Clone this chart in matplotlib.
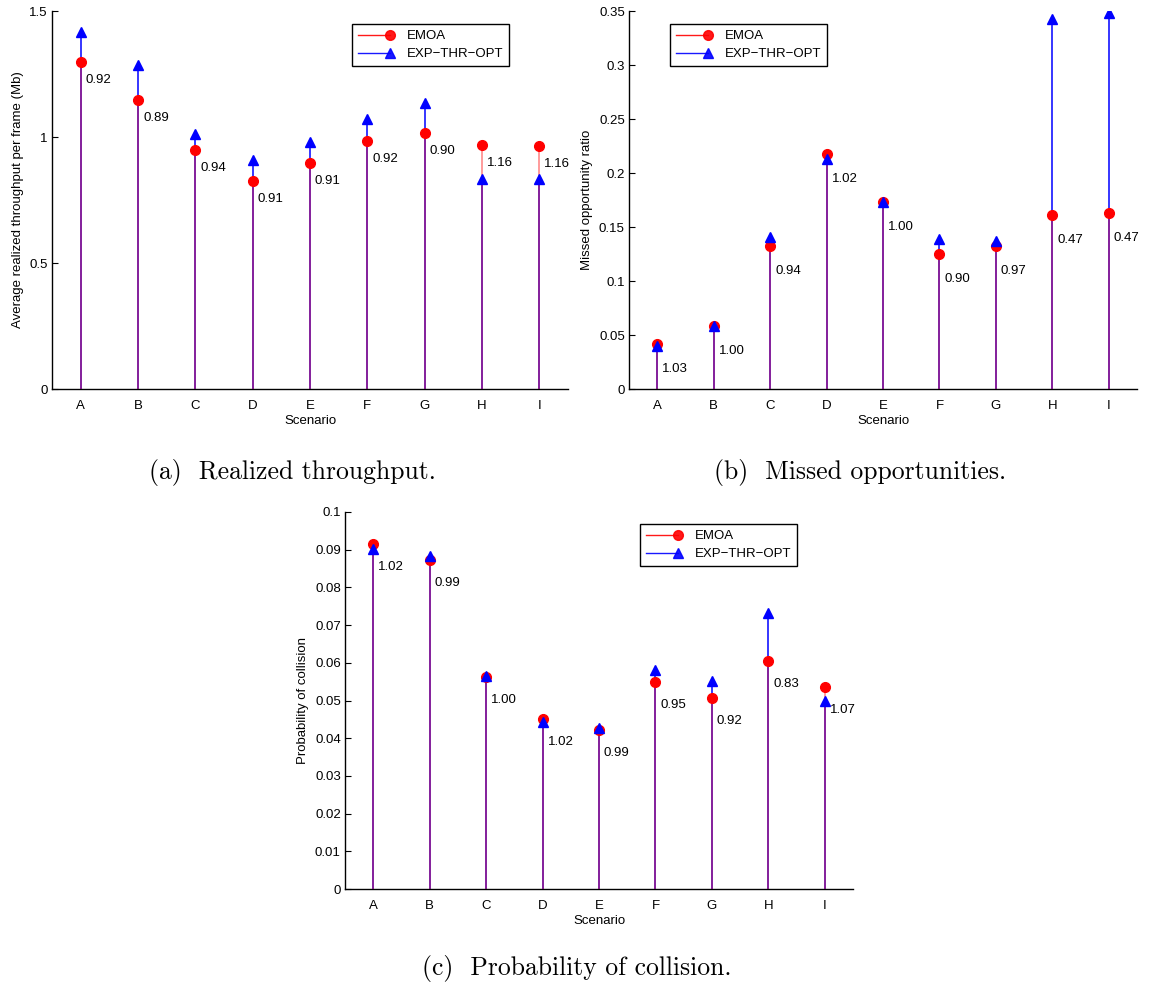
import numpy as np
import matplotlib
matplotlib.use("Agg")
import matplotlib.pyplot as plt
from matplotlib.lines import Line2D
from matplotlib.legend_handler import HandlerLine2D
from matplotlib.ticker import FuncFormatter

plt.rcParams['font.family'] = ['Liberation Sans', 'DejaVu Sans']
plt.rcParams['font.size'] = 9

scenarios = ['A', 'B', 'C', 'D', 'E', 'F', 'G', 'H', 'I']

# (a) average realized throughput per frame (Mb)
thr_emoa = [1.296, 1.147, 0.950, 0.825, 0.897, 0.984, 1.017, 0.969, 0.966]
thr_opt = [1.415, 1.286, 1.010, 0.909, 0.981, 1.070, 1.134, 0.835, 0.833]

# (b) missed opportunity ratio
mis_emoa = [0.0413, 0.0586, 0.1321, 0.2173, 0.1728, 0.1250, 0.1327, 0.1611, 0.1626]
mis_opt = [0.0401, 0.0586, 0.1405, 0.2130, 0.1730, 0.1392, 0.1373, 0.3426, 0.3478]

# (c) probability of collision
col_emoa = [0.0916, 0.0873, 0.0563, 0.0451, 0.0422, 0.0550, 0.0507, 0.0606, 0.0535]
col_opt = [0.0902, 0.0883, 0.0564, 0.0443, 0.0426, 0.0581, 0.0551, 0.0733, 0.0500]

FS = 9.5


class EndMarker(HandlerLine2D):
    # legend entry: line with the marker sitting at its right end
    def create_artists(self, legend, orig, xdescent, ydescent, width, height, fontsize, trans):
        arts = super().create_artists(legend, orig, xdescent, ydescent, width, height, fontsize, trans)
        line = arts[0]
        line.set_markevery([len(line.get_xdata()) - 1])
        return arts


def stem_panel(ax, emoa, opt, ylim, step, ylabel, leg_loc, txt_dy):
    x = np.arange(1, len(scenarios) + 1)
    emoa = np.asarray(emoa)
    opt = np.asarray(opt)
    ax.vlines(x, 0, opt, colors='blue', lw=1.1, zorder=2)
    ax.vlines(x, 0, emoa, colors='red', lw=1.1, alpha=0.5, zorder=3)
    ax.plot(x, emoa, 'o', color='red', ms=7, zorder=4)
    ax.plot(x, opt, '^', color='blue', ms=7.5, zorder=5)
    for xi, e, o in zip(x, emoa, opt):
        ax.annotate('%.2f' % (e / o), (xi, e), xytext=(5, -txt_dy),
                    textcoords='offset pixels', ha='left', va='center', fontsize=FS)
    ax.set_xlim(0.5, len(scenarios) + 0.5)
    ax.set_ylim(*ylim)
    ax.set_xticks(x)
    ax.set_xticklabels(scenarios)
    ax.set_yticks(np.arange(ylim[0], ylim[1] + step / 2, step))
    ax.yaxis.set_major_formatter(FuncFormatter(lambda v, p: '%g' % round(v, 4)))
    ax.tick_params(axis='y', direction='in', length=4, width=0.8, labelsize=FS, pad=3)
    ax.tick_params(axis='x', length=0, labelsize=FS, pad=8)
    for s in ['top', 'right']:
        ax.spines[s].set_visible(False)
    for s in ['left', 'bottom']:
        ax.spines[s].set_linewidth(1.0)
    ax.set_xlabel('Scenario', fontsize=FS, labelpad=2)
    ax.set_ylabel(ylabel, fontsize=FS, labelpad=4)
    handles = [Line2D([], [], color='red', marker='o', ms=7, lw=1, alpha=0.9),
               Line2D([], [], color='blue', marker='^', ms=7.5, lw=1, alpha=0.9)]
    leg = ax.legend(handles, ['EMOA', 'EXP\u2212THR\u2212OPT'], loc='upper left',
                    bbox_to_anchor=leg_loc, fancybox=False, framealpha=1,
                    edgecolor='black', fontsize=FS, handlelength=2.4,
                    borderpad=0.45, labelspacing=0.45, handletextpad=1.3,
                    borderaxespad=0, handler_map={Line2D: EndMarker(numpoints=1)})
    leg.get_frame().set_linewidth(1.0)


W, H = 1151, 989
fig = plt.figure(figsize=(W / 100, H / 100), dpi=100)

ax_a = fig.add_axes([52 / W, 1 - 389 / H, 516 / W, 378 / H])
ax_b = fig.add_axes([629 / W, 1 - 389 / H, 508 / W, 378 / H])
ax_c = fig.add_axes([345 / W, 1 - 889 / H, 508 / W, 377 / H])

stem_panel(ax_a, thr_emoa, thr_opt, (0, 1.5), 0.5,
           'Average realized throughput per frame (Mb)',
           ((352 - 52) / 516, (389 - 24) / 378), 18)
stem_panel(ax_b, mis_emoa, mis_opt, (0, 0.35), 0.05,
           'Missed opportunity ratio',
           ((670 - 629) / 508, (389 - 24) / 378), 25)
stem_panel(ax_c, col_emoa, col_opt, (0, 0.1), 0.01,
           'Probability of collision',
           ((640 - 345) / 508, (889 - 524) / 377), 23)

cap = dict(fontfamily='cmr10', fontsize=18.5, ha='center', va='center')
fig.text(292 / W, 1 - 473 / H, '(a)  Realized throughput.', **cap)
fig.text(860 / W, 1 - 473 / H, '(b)  Missed opportunities.', **cap)
fig.text(577 / W, 1 - 968 / H, '(c)  Probability of collision.', **cap)

fig.savefig('out.png', dpi=100)
